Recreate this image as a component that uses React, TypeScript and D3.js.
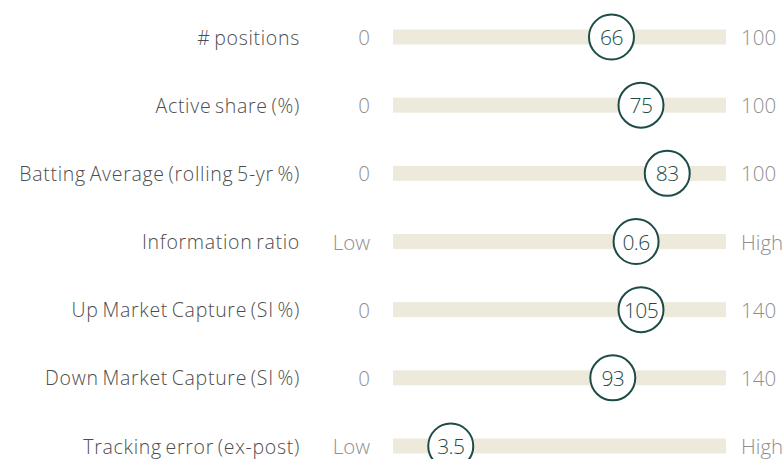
import React from "react";
import * as d3 from "d3";

const labels = [
  "# positions",
  "Active share (%)",
  "Batting Average (rolling 5-yr %)",
  "Information ratio",
  "Up Market Capture (SI %)",
  "Down Market Capture (SI %)",
  "Tracking error (ex-post)",
];
const minLabels = ["0", "0", "0", "Low", "0", "0", "Low"];
const maxLabels = ["100", "100", "100", "High", "140", "140", "High"];
const valueLabels = ["66", "75", "83", "0.6", "105", "93", "3.5"];
// marker position as percent of the range
const markerPct = [66, 75, 83, 73.5, 75, 66.4, 17];

const W = 784;
const H = 459;

export default function App() {
  const y = d3.scalePoint<string>().domain(labels).range([37, 446]);
  const x = d3.scaleLinear().domain([0, 100]).range([395, 723]);
  const barX0 = 393;
  const barX1 = 726;
  const font = "'Open Sans', Roboto, sans-serif";
  return (
    <svg
      width={W}
      height={H}
      style={{ position: "absolute", left: 0, top: 0, background: "#fff" }}
    >
      {labels.map((lab, i) => {
        const cy = y(lab)!;
        const cx = x(markerPct[i]);
        return (
          <g key={lab}>
            <text
              x={300}
              y={cy}
              textAnchor="end"
              dominantBaseline="central"
              fontFamily={font}
              fontWeight={300}
              fontSize={19.5}
              fill="#4d4d4d"
              letterSpacing={0.7}
              wordSpacing={-2}
            >
              {lab}
            </text>
            <text
              x={370}
              y={cy}
              textAnchor="end"
              dominantBaseline="central"
              fontFamily={font}
              fontWeight={300}
              fontSize={20.5}
              fill="#8f8f8f"
            >
              {minLabels[i]}
            </text>
            <rect
              x={barX0}
              y={cy - 7.5}
              width={barX1 - barX0}
              height={15}
              fill="#eeeadb"
            />
            <text
              x={741}
              y={cy}
              textAnchor="start"
              dominantBaseline="central"
              fontFamily={font}
              fontWeight={300}
              fontSize={20.5}
              fill="#8f8f8f"
            >
              {maxLabels[i]}
            </text>
            <circle
              cx={cx}
              cy={cy}
              r={22.5}
              fill="#fff"
              stroke="#1d4c46"
              strokeWidth={2}
            />
            <text
              x={cx}
              y={cy}
              textAnchor="middle"
              dominantBaseline="central"
              fontFamily={font}
              fontWeight={300}
              fontSize={21}
              fill="#1d4c46"
              letterSpacing={-0.6}
            >
              {valueLabels[i]}
            </text>
          </g>
        );
      })}
    </svg>
  );
}
